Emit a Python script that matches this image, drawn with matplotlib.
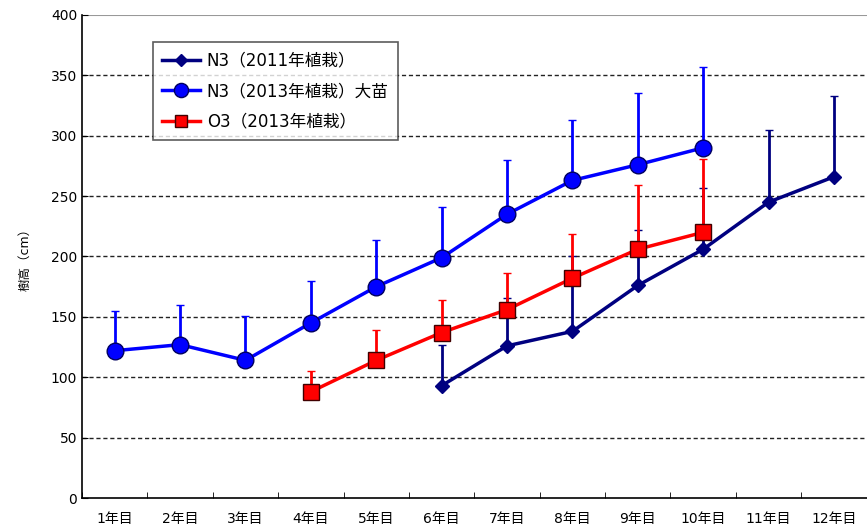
import numpy as np
import matplotlib.pyplot as plt
from matplotlib.lines import Line2D

plt.rcParams['font.family'] = ['DejaVu Sans', 'Noto Sans CJK JP']

years = ['1年目', '2年目', '3年目', '4年目', '5年目', '6年目',
         '7年目', '8年目', '9年目', '10年目', '11年目', '12年目']

# N3 (2011) : 6-12年目
n3_2011_x = [6, 7, 8, 9, 10, 11, 12]
n3_2011 = [93, 126, 138, 176, 206, 245, 266]
n3_2011_top = [127, 166, 200, 222, 257, 305, 333]

# N3 (2013) 大苗 : 1-10年目
n3_2013_x = [1, 2, 3, 4, 5, 6, 7, 8, 9, 10]
n3_2013 = [122, 127, 114, 145, 175, 199, 235, 263, 276, 290]
n3_2013_top = [155, 160, 151, 180, 214, 241, 280, 313, 335, 357]

# O3 (2013) : 4-10年目
o3_x = [4, 5, 6, 7, 8, 9, 10]
o3 = [88, 114, 137, 156, 182, 206, 220]
o3_top = [105, 139, 164, 186, 219, 259, 281]

fig = plt.figure(figsize=(8.67, 5.25), dpi=100)
ax = fig.add_axes([0.0946, 0.0514, 0.905, 0.9201])

handles = []


def draw(x, y, top, color, marker, ms, label, mec, z):
    y = np.array(y)
    up = np.array(top) - y
    ax.errorbar(x, y, yerr=[np.zeros_like(up), up], color=color, lw=2.5,
                elinewidth=2, capsize=3, capthick=2, marker=marker, ms=ms,
                mfc=color, mec=mec, mew=1, zorder=z)
    handles.append(Line2D([], [], color=color, lw=2.5, marker=marker,
                          ms=ms * 0.85, mfc=color, mec=mec, label=label))


draw(n3_2011_x, n3_2011, n3_2011_top, '#000080', 'D', 7,
     'N3（2011年植栽）', '#000080', 3)
draw(n3_2013_x, n3_2013, n3_2013_top, '#0000ff', 'o', 12,
     'N3（2013年植栽）大苗', '#000060', 4)
draw(o3_x, o3, o3_top, '#ff0000', 's', 11,
     'O3（2013年植栽）', '#400000', 5)

ax.set_xlim(0.5, 12.5)
ax.set_ylim(0, 400)
ax.set_yticks(range(0, 401, 50))
ax.set_xticks(range(1, 13))
ax.set_xticklabels(years)
ax.set_xticks(np.arange(0.5, 12.6, 1), minor=True)
ax.tick_params(axis='x', which='major', length=0, pad=10, labelsize=10)
ax.tick_params(axis='x', which='minor', length=4, direction='in')
ax.tick_params(axis='y', length=4, direction='in', labelsize=10)

for v in range(50, 400, 50):
    ax.axhline(v, color='#222222', ls=(0, (3, 2)), lw=1, zorder=1)
ax.axhline(400, color='#999999', lw=1.5, zorder=1)

ax.spines['top'].set_visible(False)
ax.spines['right'].set_visible(False)
ax.spines['left'].set_linewidth(1.2)
ax.spines['bottom'].set_linewidth(1.2)

ax.set_ylabel('樹高（cm）', fontsize=9, labelpad=14)

leg = ax.legend(handles=handles, loc='upper left',
                bbox_to_anchor=(0.09, 0.943), fontsize=12,
                frameon=True, fancybox=False, edgecolor='#333333',
                handlelength=2.3, handletextpad=0.4, borderpad=0.55,
                labelspacing=0.75, borderaxespad=0)
leg.get_frame().set_linewidth(1.2)

fig.savefig('out.png', dpi=100)
